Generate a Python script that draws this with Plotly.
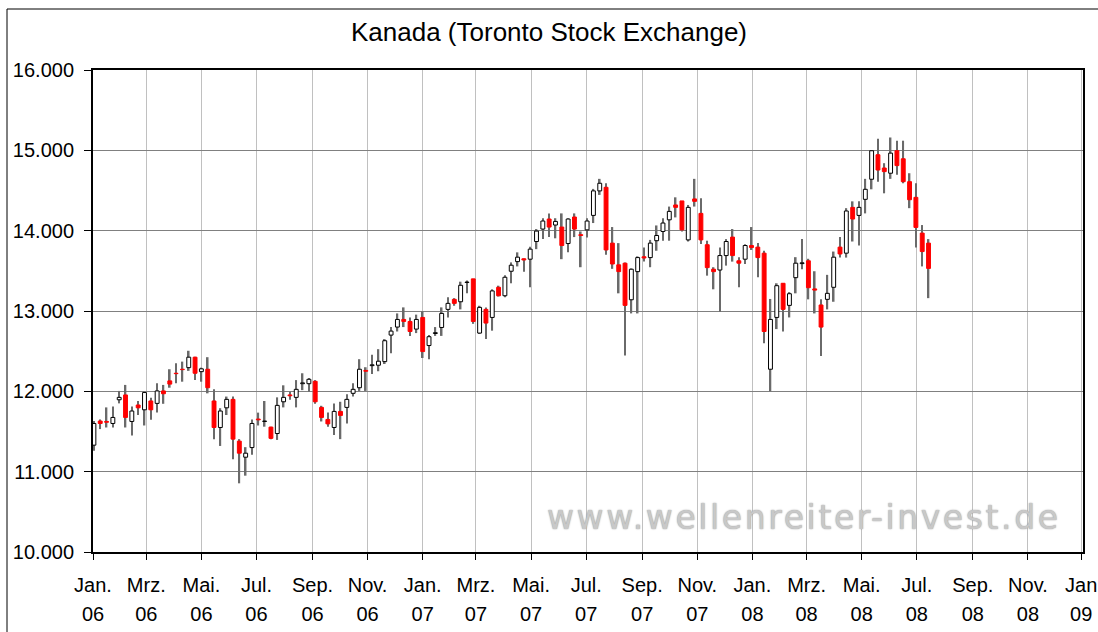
import pandas as pd
import plotly.graph_objects as go

# ---------------- data (weekly candles, week starting Monday) ----------------
week_start = "2006-01-02"
n_weeks = 133
opens = [11330, 11630, 11625, 11600, 11895, 11955, 11625, 11830, 11770, 11880,
         11850, 12005, 12130, 12225, 12275, 12295, 12425, 12245, 12275, 11880,
         11550, 11795, 11900, 11380, 11180, 11300, 11655, 11625, 11555, 11475,
         11870, 11955, 11925, 12095, 12095, 12125, 11800, 11650, 11550, 11750,
         11800, 11975, 12045, 12260, 12320, 12325, 12370, 12700, 12800, 12895,
         12870, 12775, 12920, 12570, 12720, 12795, 13020, 13145, 13115, 13355,
         13400, 12725, 13020, 12920, 13295, 13190, 13495, 13615, 13650, 13645,
         13865, 14020, 14145, 14070, 14045, 13840, 14170, 13950, 14010, 14190,
         14495, 14540, 13845, 13575, 13595, 13140, 13490, 13675, 13665, 13875,
         13990, 14135, 14320, 14370, 13885, 14395, 14215, 13825, 13520, 13510,
         13690, 13920, 13625, 13645, 13815, 13795, 13720, 12275, 12920, 13345,
         13070, 13415, 13590, 13625, 13275, 13075, 13145, 13295, 13795, 13720,
         14290, 14190, 14390, 14640, 14945, 14780, 14715, 14995, 14895, 14610,
         14415, 13970, 13845]
highs = [11630, 11650, 11800, 11810, 12005, 12080, 11810, 11880, 12000, 11920,
         12100, 12080, 12275, 12350, 12370, 12505, 12430, 12295, 12425, 12025,
         11790, 11935, 11935, 11405, 11305, 11650, 11735, 11880, 11560, 11925,
         12075, 11995, 12140, 12225, 12165, 12140, 11820, 11735, 11850, 11870,
         11965, 12100, 12400, 12300, 12455, 12525, 12650, 12800, 12970, 13045,
         12920, 12955, 12995, 12700, 12800, 13045, 13170, 13160, 13365, 13380,
         13400, 13065, 13045, 13270, 13315, 13445, 13605, 13730, 13655, 13800,
         14020, 14155, 14215, 14155, 14215, 14155, 14215, 13990, 14155, 14520,
         14645, 14590, 14045, 13845, 13605, 13530, 13680, 13790, 13885, 14065,
         14155, 14300, 14415, 14370, 14320, 14645, 14405, 13875, 13545, 13790,
         13895, 14020, 13670, 13830, 14045, 13845, 13750, 13150, 13345, 13345,
         13235, 13670, 13895, 13650, 13495, 13145, 13450, 13740, 13920, 14280,
         14365, 14365, 14645, 15000, 15145, 14840, 15160, 15120, 15120, 14715,
         14590, 14070, 13895]
lows = [11260, 11530, 11550, 11550, 11850, 11550, 11450, 11705, 11575, 11645,
        11735, 11845, 12045, 12100, 12120, 12255, 12140, 12120, 11975, 11405,
        11320, 11705, 11155, 10855, 10950, 11210, 11575, 11560, 11405, 11395,
        11800, 11895, 11800, 12015, 11995, 11845, 11625, 11560, 11455, 11405,
        11600, 11935, 12005, 12005, 12215, 12250, 12340, 12475, 12745, 12800,
        12690, 12725, 12415, 12400, 12690, 12690, 12920, 13065, 13020, 13220,
        12840, 12715, 12650, 12755, 13180, 13170, 13345, 13555, 13490, 13295,
        13770, 13895, 13920, 13905, 13645, 13730, 13920, 13545, 13915, 14095,
        14445, 13700, 13525, 13220, 12445, 12970, 12970, 13615, 13545, 13750,
        13875, 13875, 14165, 13990, 13865, 14300, 13835, 13440, 13270, 12990,
        13565, 13615, 13295, 13585, 13760, 13420, 12600, 12000, 12775, 12745,
        12920, 13220, 13520, 13145, 12970, 12440, 13020, 13115, 13665, 13665,
        13865, 13815, 14215, 14515, 14610, 14465, 14645, 14695, 14590, 14280,
        13790, 13555, 13160]
closes = [11600, 11600, 11615, 11675, 11925, 11675, 11755, 11795, 11985, 11770,
          12005, 11970, 12090, 12220, 12270, 12425, 12225, 12280, 12045, 11550,
          11755, 11900, 11405, 11230, 11230, 11600, 11645, 11630, 11415, 11825,
          11925, 11945, 12025, 12105, 12150, 11870, 11675, 11595, 11750, 11700,
          11900, 12025, 12275, 12250, 12330, 12375, 12630, 12750, 12895, 12870,
          12745, 12895, 12495, 12680, 12730, 12970, 13095, 13095, 13320, 13360,
          12870, 13045, 12850, 13250, 13190, 13420, 13570, 13670, 13635, 13770,
          13995, 14120, 14045, 14115, 13815, 14145, 14020, 13940, 14120, 14495,
          14590, 13760, 13585, 13490, 13070, 13520, 13665, 13660, 13845, 13940,
          14095, 14240, 14290, 14010, 14290, 14365, 13885, 13540, 13490, 13690,
          13865, 13690, 13595, 13815, 13790, 13665, 12745, 12895, 13315, 13020,
          13215, 13595, 13600, 13290, 13260, 12800, 13220, 13670, 13710, 14245,
          14145, 14290, 14515, 14995, 14755, 14735, 14965, 14810, 14610, 14385,
          14040, 13740, 13530]

tick_dates = ["2006-01-01", "2006-03-01", "2006-05-01", "2006-07-01", "2006-09-01",
              "2006-11-01", "2007-01-01", "2007-03-01", "2007-05-01", "2007-07-01",
              "2007-09-01", "2007-11-01", "2008-01-01", "2008-03-01", "2008-05-01",
              "2008-07-01", "2008-09-01", "2008-11-01", "2008-12-30"]
tick_months = ["Jan.", "Mrz.", "Mai.", "Jul.", "Sep.", "Nov."] * 3 + ["Jan"]
tick_years = ["06"] * 6 + ["07"] * 6 + ["08"] * 6 + ["09"]
y_ticks = [10000, 11000, 12000, 13000, 14000, 15000, 16000]

title_text = "Kanada (Toronto Stock Exchange)"
watermark = "www.wellenreiter-invest.de"

# ---------------- derived ----------------
dates = pd.date_range(week_start, periods=n_weeks, freq="7D")
DAY = 86400000
FONT = "Liberation Sans, Arial, sans-serif"

up_x, up_base, up_h = [], [], []
dn_x, dn_base, dn_h = [], [], []
for d, o, c in zip(dates, opens, closes):
    if c >= o:
        up_x.append(d); up_base.append(o); up_h.append(c - o)
    else:
        dn_x.append(d); dn_base.append(c); dn_h.append(o - c)

fig = go.Figure()
# wicks (high-low range)
fig.add_trace(go.Bar(
    x=dates, base=lows, y=[h - l for h, l in zip(highs, lows)],
    width=1.8 * DAY, marker=dict(color="#6a6a6a", line=dict(width=0)),
    hoverinfo="skip", showlegend=False, xaxis="x", yaxis="y"))
# rising bodies (on overlaid x2 so they sit above the wicks)
fig.add_trace(go.Bar(
    x=up_x, base=up_base, y=up_h, width=4.3 * DAY,
    marker=dict(color="white", line=dict(color="black", width=1)),
    hoverinfo="skip", showlegend=False, xaxis="x2", yaxis="y"))
# falling bodies
fig.add_trace(go.Bar(
    x=dn_x, base=dn_base, y=dn_h, width=4.3 * DAY,
    marker=dict(color="#ff0000", line=dict(color="#ff0000", width=1)),
    hoverinfo="skip", showlegend=False, xaxis="x2", yaxis="y"))

# plot area in pixels: x 93..1083, y 70..552
L, R, T, B = 93, 1083, 70, 552
def px(xp):
    return (xp - L) / (R - L)
def py(yp):
    return (B - yp) / (B - T)

x_range = ["2006-01-01", "2009-01-01"]
fig.update_layout(
    width=1098, height=632, autosize=False,
    margin=dict(l=L, r=1098 - R, t=T, b=632 - B, pad=0, autoexpand=False),
    paper_bgcolor="white", plot_bgcolor="white",
    barmode="overlay",
    separators=",.",
    font=dict(family=FONT, size=20, color="black"),
    title=dict(text=title_text, x=0.5, xref="container", xanchor="center",
               y=1 - 32 / 632, yref="container", yanchor="middle",
               font=dict(family=FONT, size=26, color="black")),
    xaxis=dict(type="date", range=x_range, automargin=False,
               tickmode="array", tickvals=tick_dates, ticktext=tick_months,
               showgrid=True, gridcolor="#c0c0c0", gridwidth=1,
               showline=True, linecolor="black", linewidth=2, mirror=True,
               ticks="outside", ticklen=6, tickwidth=1, tickcolor="black",
               ticklabelstandoff=8, zeroline=False, ticklabeloverflow="allow",
               tickfont=dict(family=FONT, size=20, color="black")),
    xaxis2=dict(type="date", range=x_range, matches="x", automargin=False,
                overlaying="x", anchor="y", side="bottom",
                tickmode="array", tickvals=tick_dates, ticktext=tick_years,
                showgrid=False, showline=False, ticks="", zeroline=False,
                ticklabelstandoff=48, ticklabeloverflow="allow",
                tickfont=dict(family=FONT, size=20, color="black")),
    yaxis=dict(range=[10000, 16000], tickmode="array", tickvals=y_ticks,
               automargin=False,
               tickformat=",d", showgrid=True, gridcolor="#808080", gridwidth=1,
               showline=True, linecolor="black", linewidth=2, mirror=True,
               ticks="outside", ticklen=7, tickwidth=1, tickcolor="black",
               ticklabelstandoff=6, zeroline=False,
               tickfont=dict(family=FONT, size=20, color="black")),
    annotations=[dict(
        text='<span style="letter-spacing:2.6px">' + watermark + '</span>',
        xref="paper", yref="paper", x=px(804), y=py(517),
        xanchor="center", yanchor="middle", showarrow=False,
        font=dict(family="DejaVu Sans, sans-serif", size=33, color="#c8c8c8",
                  shadow="0px 0px 1.5px #8a8a8a"))],
    shapes=[dict(type="rect", xref="paper", yref="paper",
                 x0=px(7), x1=px(1110), y0=py(640), y1=py(9),
                 line=dict(color="black", width=1), fillcolor="rgba(0,0,0,0)",
                 layer="above")],
)

fig.write_html("out.html", config={"displayModeBar": False},
               post_script="document.body.style.margin='0px';")
